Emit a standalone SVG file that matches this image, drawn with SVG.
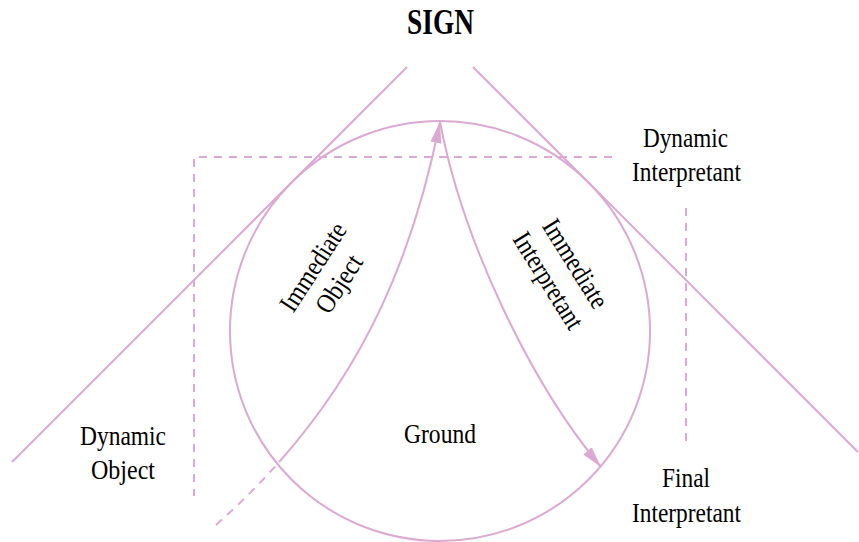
<svg xmlns="http://www.w3.org/2000/svg" width="859" height="542" viewBox="0 0 859 542">
  <style>
    .ln { fill: none; stroke: #dba9d2; stroke-width: 2; }
    .dash { stroke-dasharray: 8 7; }
    .t { font-family: "Liberation Serif", "Times New Roman", serif; font-size: 27px; fill: #000; text-anchor: middle; }
    .title { font-family: "Liberation Serif", "Times New Roman", serif; font-size: 36px; font-weight: bold; fill: #000; text-anchor: middle; }
  </style>
  <defs>
    <marker id="arrow" markerUnits="userSpaceOnUse" markerWidth="22" markerHeight="12" refX="21" refY="6" orient="auto">
      <path d="M0,0.5 L21,6 L0,11.5 z" fill="#dba9d2"/>
    </marker>
  </defs>
  <rect width="859" height="542" fill="#ffffff"/>

  <g id="title">
    <text class="title" x="440.5" y="34" textLength="67" lengthAdjust="spacingAndGlyphs">SIGN</text>
  </g>

  <g id="ground">
    <circle class="ln" cx="440" cy="331" r="210"/>
    <text class="t" x="440" y="443" textLength="72" lengthAdjust="spacingAndGlyphs">Ground</text>
  </g>

  <g id="sign-lines">
    <line class="ln" x1="407" y1="67" x2="12" y2="462"/>
    <line class="ln" x1="473" y1="67" x2="858" y2="452"/>
  </g>

  <g id="frame">
    <polyline class="ln dash" points="612,157 194,157 194,496"/>
    <line class="ln dash" x1="686" y1="208" x2="686" y2="442"/>
  </g>

  <g id="connectors">
    <path class="ln dash" d="M216,525 C239.04,504.48 259.99,483.56 279.05,462.09"/>
    <path class="ln" d="M279.05,462.09 C365.86,364.29 413.35,255.25 440,122" marker-end="url(#arrow)"/>
    <path class="ln" d="M440,122 C462,238 529,381 601,467" marker-end="url(#arrow)"/>
  </g>

  <g id="dynamic-object">
    <text class="t" x="123" y="445" textLength="86" lengthAdjust="spacingAndGlyphs">Dynamic</text>
    <text class="t" x="123" y="479" textLength="64" lengthAdjust="spacingAndGlyphs">Object</text>
  </g>

  <g id="dynamic-interpretant">
    <text class="t" x="685.5" y="147" textLength="85" lengthAdjust="spacingAndGlyphs">Dynamic</text>
    <text class="t" x="686.5" y="181" textLength="109" lengthAdjust="spacingAndGlyphs">Interpretant</text>
  </g>

  <g id="final-interpretant">
    <text class="t" x="686" y="487" textLength="48" lengthAdjust="spacingAndGlyphs">Final</text>
    <text class="t" x="686.5" y="522" textLength="109" lengthAdjust="spacingAndGlyphs">Interpretant</text>
  </g>

  <g id="immediate-object" transform="translate(325.5,275) rotate(-57)">
    <text class="t" x="0" y="-6" textLength="100" lengthAdjust="spacingAndGlyphs">Immediate</text>
    <text class="t" x="0" y="25" textLength="64" lengthAdjust="spacingAndGlyphs">Object</text>
  </g>

  <g id="immediate-interpretant" transform="translate(562,272) rotate(58)">
    <text class="t" x="0" y="-7" textLength="100" lengthAdjust="spacingAndGlyphs">Immediate</text>
    <text class="t" x="0" y="25" textLength="109" lengthAdjust="spacingAndGlyphs">Interpretant</text>
  </g>
</svg>
